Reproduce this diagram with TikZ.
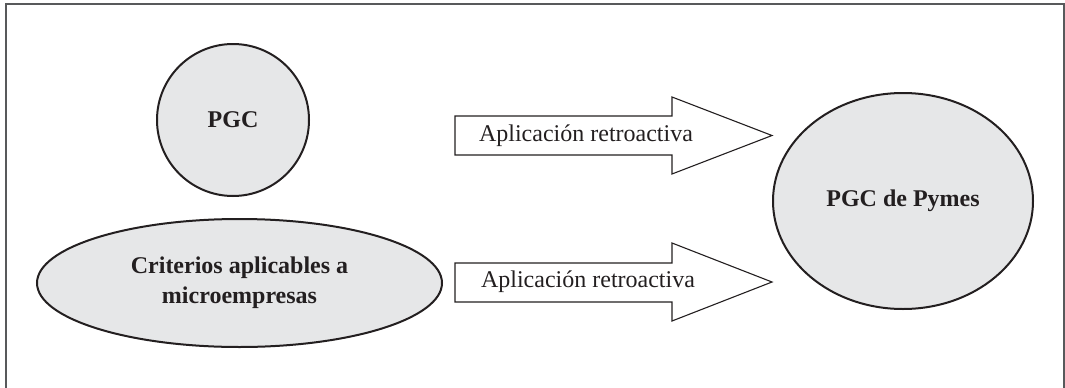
\documentclass[tikz,border=0pt]{standalone}
\usepackage{fontspec}
\setmainfont{Liberation Serif}
\usetikzlibrary{shapes.geometric}
\definecolor{ink}{HTML}{231F20}
\definecolor{shade}{HTML}{E6E7E8}
\definecolor{framegray}{HTML}{58595B}
\tikzset{
  concept/.style={ellipse, draw=ink, line width=2pt, fill=shade, text=ink,
    inner sep=0pt, font=\fontsize{24}{30}\selectfont\bfseries, align=center},
  blockarrow/.style={draw=ink, line width=1.1pt, fill=white, line join=miter},
  arrowlabel/.style={text=ink, inner sep=0pt, font=\fontsize{24}{28}\selectfont},
  frameline/.style={draw=framegray, line width=2pt}
}
\begin{document}
\begin{tikzpicture}[x=1pt, y=-1pt]
  \useasboundingbox (0,0) rectangle (1065,388);

  % open frame: left, top and right sides
  \draw[frameline] (6,390) -- (6,3.5) -- (1064,3.5) -- (1064,390);

  % source and target concepts
  \node[concept, minimum width=152pt, minimum height=152pt] (pgc) at (233,120) {PGC};
  \node[concept, minimum width=405pt, minimum height=128pt] (micro) at (239.5,283)
    {Criterios aplicables a\\microempresas};
  \node[concept, minimum width=260pt, minimum height=216pt] (pymes) at (903,201) {PGC de Pymes};

  % block arrows
  \draw[blockarrow] (455,116) -- (672,116) -- (672,97) -- (772,135.5)
    -- (672,174) -- (672,155) -- (455,155) -- cycle;
  \node[arrowlabel] (lab1) at (586,135.5) {Aplicación retroactiva};

  \draw[blockarrow] (455,263) -- (672,263) -- (672,243) -- (772,282)
    -- (672,321) -- (672,302) -- (455,302) -- cycle;
  \node[arrowlabel] (lab2) at (588,282) {Aplicación retroactiva};
\end{tikzpicture}
\end{document}
